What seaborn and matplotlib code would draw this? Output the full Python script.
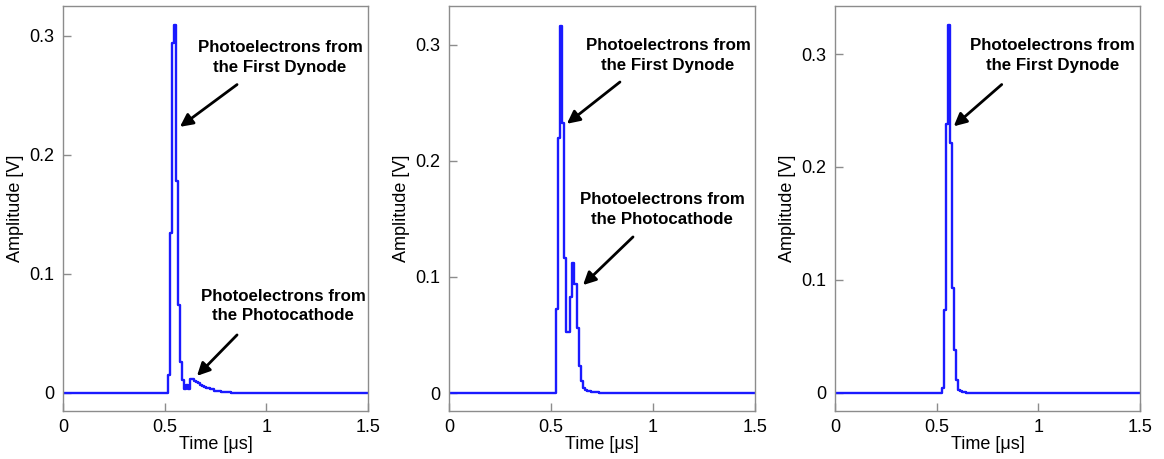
import numpy as np
import pandas as pd
import matplotlib
matplotlib.use("Agg")
import matplotlib.pyplot as plt
import seaborn as sns

# ---------------- data ----------------
time_us = np.round(np.arange(0, 151) * 0.01, 2)  # sample times (µs)

amp_a = [
    0.000, 0.000, 0.0003, 0.000, 0.000, -0.0003, 0.000, 0.000, 0.0003, 0.000,
    0.000, 0.000, -0.0003, 0.000, 0.000, 0.0003, 0.000, 0.000, 0.000, -0.0003,
    0.000, 0.000, 0.0003, 0.000, 0.000, 0.000, -0.0003, 0.000, 0.000, 0.0003,
    0.000, 0.000, 0.000, -0.0003, 0.000, 0.000, 0.0003, 0.000, 0.000, 0.000,
    -0.0003, 0.000, 0.000, 0.0003, 0.000, 0.000, 0.000, -0.0003, 0.000, 0.000,
    0.000, 0.000, 0.015, 0.134, 0.294, 0.309, 0.178, 0.074, 0.026, 0.011,
    0.003, 0.007, 0.003, 0.012, 0.012, 0.010, 0.009, 0.008, 0.007, 0.006,
    0.005, 0.004, 0.004, 0.003, 0.003, 0.002, 0.002, 0.002, 0.001, 0.001,
    0.001, 0.0005, 0.0005, 0.000, 0.0003, 0.000, 0.000, -0.0003, 0.000, 0.000,
    0.0003, 0.000, 0.000, 0.000, -0.0003, 0.000, 0.000, 0.0003, 0.000, 0.000,
    0.000, -0.0003, 0.000, 0.000, 0.0003, 0.000, 0.000, 0.000, -0.0003, 0.000,
    0.000, 0.0003, 0.000, 0.000, 0.000, -0.0003, 0.000, 0.000, 0.0003, 0.000,
    0.000, 0.000, -0.0003, 0.000, 0.000, 0.0003, 0.000, 0.000, 0.000, -0.0003,
    0.000, 0.000, 0.0003, 0.000, 0.000, 0.000, -0.0003, 0.000, 0.000, 0.0003,
    0.000, 0.000, 0.000, -0.0003, 0.000, 0.000, 0.0003, 0.000, 0.000, 0.000,
    0.000,
]

amp_b = [
    0.000, 0.000, 0.0003, 0.000, 0.000, -0.0003, 0.000, 0.000, 0.0003, 0.000,
    0.000, 0.000, -0.0003, 0.000, 0.000, 0.0003, 0.000, 0.000, 0.000, -0.0003,
    0.000, 0.000, 0.0003, 0.000, 0.000, 0.000, -0.0003, 0.000, 0.000, 0.0003,
    0.000, 0.000, 0.000, -0.0003, 0.000, 0.000, 0.0003, 0.000, 0.000, 0.000,
    -0.0003, 0.000, 0.000, 0.0003, 0.000, 0.000, 0.000, -0.0003, 0.000, 0.000,
    0.000, 0.000, 0.000, 0.072, 0.220, 0.316, 0.233, 0.116, 0.053, 0.053,
    0.083, 0.112, 0.094, 0.056, 0.023, 0.010, 0.004, 0.003, 0.002, 0.002,
    0.001, 0.001, 0.0005, 0.0005, 0.000, 0.0003, 0.000, -0.0003, 0.000, 0.000,
    0.0003, 0.000, 0.000, 0.000, -0.0003, 0.000, 0.000, 0.0003, 0.000, 0.000,
    0.000, -0.0003, 0.000, 0.000, 0.0003, 0.000, 0.000, 0.000, -0.0003, 0.000,
    0.000, 0.0003, 0.000, 0.000, 0.000, -0.0003, 0.000, 0.000, 0.0003, 0.000,
    0.000, 0.000, -0.0003, 0.000, 0.000, 0.0003, 0.000, 0.000, 0.000, -0.0003,
    0.000, 0.000, 0.0003, 0.000, 0.000, 0.000, -0.0003, 0.000, 0.000, 0.0003,
    0.000, 0.000, 0.000, -0.0003, 0.000, 0.000, 0.0003, 0.000, 0.000, 0.000,
    -0.0003, 0.000, 0.000, 0.0003, 0.000, 0.000, 0.000, -0.0003, 0.000, 0.000,
    0.000,
]

amp_c = [
    0.000, 0.000, 0.0003, 0.000, 0.000, -0.0003, 0.000, 0.000, 0.0003, 0.000,
    0.000, 0.000, -0.0003, 0.000, 0.000, 0.0003, 0.000, 0.000, 0.000, -0.0003,
    0.000, 0.000, 0.0003, 0.000, 0.000, 0.000, -0.0003, 0.000, 0.000, 0.0003,
    0.000, 0.000, 0.000, -0.0003, 0.000, 0.000, 0.0003, 0.000, 0.000, 0.000,
    -0.0003, 0.000, 0.000, 0.0003, 0.000, 0.000, 0.000, -0.0003, 0.000, 0.000,
    0.000, 0.000, 0.000, 0.004, 0.073, 0.238, 0.326, 0.2215, 0.093, 0.038,
    0.0115, 0.003, 0.002, 0.001, 0.0005, 0.000, 0.0003, 0.000, -0.0003, 0.000,
    0.000, 0.0003, 0.000, 0.000, 0.000, -0.0003, 0.000, 0.000, 0.0003, 0.000,
    0.000, 0.000, -0.0003, 0.000, 0.000, 0.0003, 0.000, 0.000, 0.000, -0.0003,
    0.000, 0.000, 0.0003, 0.000, 0.000, 0.000, -0.0003, 0.000, 0.000, 0.0003,
    0.000, 0.000, 0.000, -0.0003, 0.000, 0.000, 0.0003, 0.000, 0.000, 0.000,
    -0.0003, 0.000, 0.000, 0.0003, 0.000, 0.000, 0.000, -0.0003, 0.000, 0.000,
    0.0003, 0.000, 0.000, 0.000, -0.0003, 0.000, 0.000, 0.0003, 0.000, 0.000,
    0.000, -0.0003, 0.000, 0.000, 0.0003, 0.000, 0.000, 0.000, -0.0003, 0.000,
    0.000, 0.0003, 0.000, 0.000, 0.000, -0.0003, 0.000, 0.000, 0.0003, 0.000,
    0.000,
]

x_ticks = [0, 0.5, 1, 1.5]
x_tick_labels = ["0", "0.5", "1", "1.5"]
y_ticks = [0, 0.1, 0.2, 0.3]
y_tick_labels = ["0", "0.1", "0.2", "0.3"]

label_dynode = "Photoelectrons from\nthe First Dynode"
label_cathode = "Photoelectrons from\nthe Photocathode"

# ---------------- style ----------------
sns.set_style("ticks")
plt.rcParams["font.family"] = ["Liberation Sans", "DejaVu Sans"]
plt.rcParams["text.color"] = "black"
plt.rcParams["axes.labelcolor"] = "black"
plt.rcParams["xtick.labelcolor"] = "black"
plt.rcParams["ytick.labelcolor"] = "black"

W, H = 1164, 459
fig = plt.figure(figsize=(W / 100, H / 100), dpi=100)

# axes boxes in pixels: left, right, top, bottom
boxes = [(63, 368, 6, 411), (449, 755, 6, 411), (835, 1140, 6, 411)]
ylims = [(-0.0152, 0.325), (-0.0155, 0.3335), (-0.016, 0.3425)]
series = [amp_a, amp_b, amp_c]

# annotations: (label, text xy, arrow tail xy, arrow tip xy)
annots = [
    [(label_dynode, (1.067, 0.2815), (0.856, 0.259), (0.575, 0.2235)),
     (label_cathode, (1.082, 0.073), (0.856, 0.0487), (0.659, 0.0143))],
    [(label_dynode, (1.073, 0.291), (0.838, 0.268), (0.578, 0.232)),
     (label_cathode, (1.044, 0.158), (0.902, 0.1345), (0.657, 0.093))],
    [(label_dynode, (1.07, 0.299), (0.82, 0.273), (0.584, 0.236))],
]

spine_color = "#8c8c8c"

for i, (l, r, t, b) in enumerate(boxes):
    ax = fig.add_axes([l / W, 1 - b / H, (r - l) / W, (b - t) / H])
    df = pd.DataFrame({"t": time_us, "v": series[i]})
    sns.lineplot(data=df, x="t", y="v", ax=ax, estimator=None,
                 drawstyle="steps-mid", color="#1a1aff", lw=1.7)
    ax.set_xlim(0, 1.5)
    ax.set_ylim(*ylims[i])
    ax.set_xticks(x_ticks)
    ax.set_xticklabels(x_tick_labels)
    ax.set_yticks(y_ticks)
    ax.set_yticklabels(y_tick_labels)
    ax.tick_params(direction="in", length=6, width=1, color=spine_color,
                   labelcolor="black", labelsize=13, pad=6,
                   top=False, right=False)
    for s in ax.spines.values():
        s.set_visible(True)
        s.set_color(spine_color)
        s.set_linewidth(1.0)
    ax.set_xlabel("Time [μs]", fontsize=13, labelpad=0, color="black")
    ax.set_ylabel("Amplitude [V]", fontsize=13, labelpad=4, color="black")

    for (txt, txy, tail, tip) in annots[i]:
        ax.text(txy[0], txy[1], txt, ha="center", va="center", color="black",
                fontsize=12.2, fontweight="bold", linespacing=1.4)
        ax.annotate("", xy=tip, xytext=tail,
                    arrowprops=dict(arrowstyle="-|>", color="black", lw=2.0,
                                    mutation_scale=19, shrinkA=0, shrinkB=0))

fig.savefig("out.png", dpi=100)
